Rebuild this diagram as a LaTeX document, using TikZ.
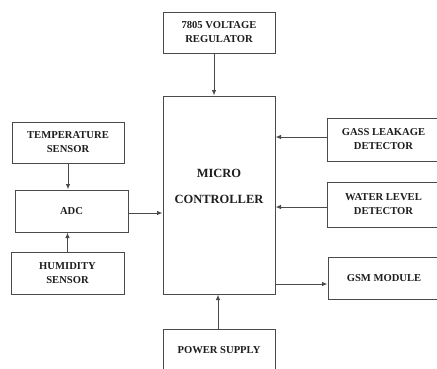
\documentclass[tikz,border=0pt]{standalone}
\usepackage{fontspec}
\setmainfont{Liberation Serif}
\usetikzlibrary{arrows.meta}
\definecolor{edge}{HTML}{4A4A4A}
\definecolor{ink}{HTML}{1E1E1E}
\begin{document}
\begin{tikzpicture}[x=1pt,y=-1pt,
  blk/.style={draw=edge, line width=1pt, minimum width=112pt, minimum height=42pt, inner sep=0pt,
    align=center, text=ink, font=\fontsize{10.6}{14}\selectfont\bfseries},
  conn/.style={draw=edge, line width=1pt, -{Latex[length=5.5pt,width=4.5pt]}}]
\useasboundingbox (0,0) rectangle (437,368);
\fill[white] (0,0) rectangle (437,368);
\clip (0,0) rectangle (437,368);
\node[blk, minimum height=41pt] (vr) at (219,32.5) {7805 VOLTAGE\\REGULATOR};
\node[blk, minimum height=198pt] (mc) at (219,195) {};
\node[text=ink, align=center, font=\fontsize{12.5}{26}\selectfont\bfseries] (mct) at (219,186) {MICRO\\CONTROLLER};
\node[blk, minimum height=41pt] (temp) at (68,142.5) {TEMPERATURE\\SENSOR};
\node[blk, minimum width=113pt] (adc) at (71.5,211) {ADC};
\node[blk, minimum width=113pt] (hum) at (67.5,273) {HUMIDITY\\SENSOR};
\node[blk, minimum width=113pt, minimum height=43pt] (gas) at (383.5,139.5) {GASS LEAKAGE\\DETECTOR};
\node[blk, minimum width=113pt, minimum height=45pt] (water) at (383.5,204.5) {WATER LEVEL\\DETECTOR};
\node[blk, minimum width=112pt] (gsm) at (384,278) {GSM MODULE};
\node[blk, minimum height=43pt] (ps) at (219,350.5) {POWER SUPPLY};
\coordinate (vrx) at (214,0);
\coordinate (psx) at (218,0);
\coordinate (ga) at (300,284);
\draw[conn] (vr.south -| vrx) -- (mc.north -| vrx);
\draw[conn] (temp.south) -- (temp.south |- adc.north);
\draw[conn] (hum.north) -- (hum.north |- adc.south);
\draw[conn] ([yshift=-2pt]adc.east) -- ([yshift=-2pt]adc.east -| mc.west);
\draw[conn] ([yshift=2.5pt]gas.west) -- ([yshift=2.5pt]gas.west -| mc.east);
\draw[conn] ([yshift=-2.5pt]water.west) -- ([yshift=-2.5pt]water.west -| mc.east);
\draw[conn] (mc.east |- ga) -- (gsm.west |- ga);
\draw[conn] (ps.north -| psx) -- (mc.south -| psx);
\end{tikzpicture}
\end{document}
